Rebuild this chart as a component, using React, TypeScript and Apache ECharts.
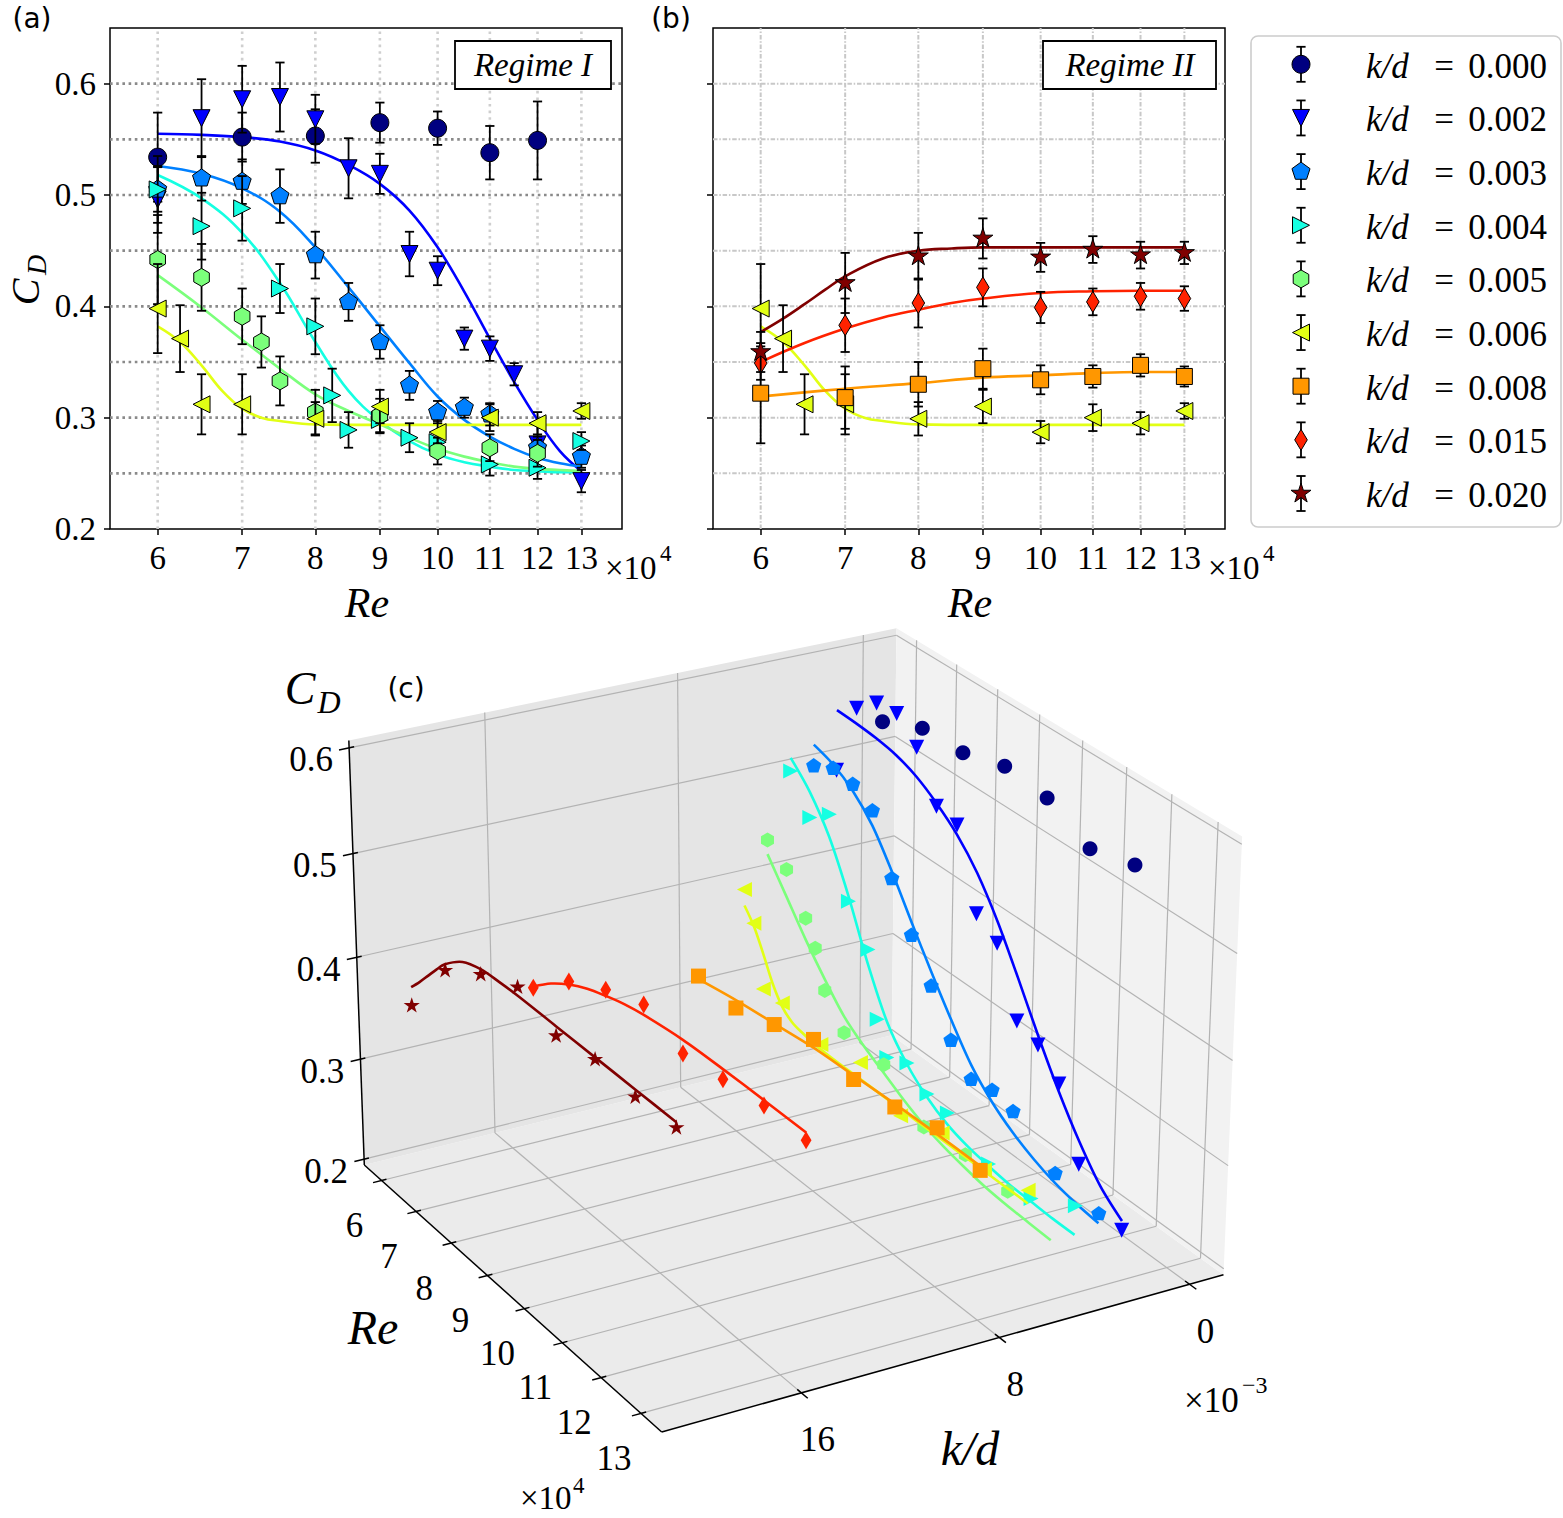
import React, { useEffect, useRef } from 'react';
import * as echarts from 'echarts';

const PAGE_W = 1563;
const PAGE_H = 1518;
const SERIF = 'Liberation Serif, DejaVu Serif, serif';
const SANS = 'DejaVu Sans, sans-serif';

// ---------------- ticks / limits ----------------
const RE_TICKS = [6, 7, 8, 9, 10, 11, 12, 13];
const CD_TICKS = [0.2, 0.3, 0.4, 0.5, 0.6];
const CD_GRID = [0.25, 0.3, 0.35, 0.4, 0.45, 0.5, 0.55, 0.6];
const KD_TICKS_3D = [0, 8, 16]; // x10^-3
const RE_LIMITS = [5.5, 14];
const CD_LIMITS = [0.2, 0.65];

// 3D box limits
const RE_3D = [5.49, 13.51];
const KD_3D = [-1.46, 21.46];
const CD_3D = [0.194, 0.607];

// ---------------- legend ----------------
const KD_LABELS = ['0.000', '0.002', '0.003', '0.004', '0.005', '0.006', '0.008', '0.015', '0.020'];
const KD_VALUES = [0, 2, 3, 4, 5, 6, 8, 15, 20]; // x10^-3
const COLORS = ['#000080', '#0000ff', '#0080ff', '#15ffe2', '#7bff7b', '#e2ff15', '#ff9700', '#ff2200', '#800000'];
const MARKERS = ['o', 'v', 'p', '>', 'h', '<', 's', 'd', '*'];

// ---------------- measurements (Re in 10^4) ----------------
const RE_000 = [6, 7, 8, 9, 10, 11, 12];
const CD_000 = [0.534, 0.552, 0.553, 0.565, 0.56, 0.538, 0.549];
const ERR_000 = [0.04, 0.022, 0.024, 0.018, 0.015, 0.024, 0.035];

const RE_002 = [6, 6.5, 7, 7.5, 8, 8.5, 9, 9.5, 10, 10.5, 11, 11.5, 12, 13];
const CD_002 = [0.496, 0.569, 0.586, 0.588, 0.568, 0.524, 0.519, 0.447, 0.432, 0.371, 0.362, 0.339, 0.276, 0.243];
const ERR_002 = [0.03, 0.035, 0.03, 0.031, 0.022, 0.027, 0.018, 0.02, 0.013, 0.01, 0.011, 0.01, 0.02, 0.01];

const RE_003 = [6, 6.5, 7, 7.5, 8, 8.5, 9, 9.5, 10, 10.5, 11, 12, 13];
const CD_003 = [0.505, 0.515, 0.512, 0.499, 0.446, 0.404, 0.368, 0.329, 0.305, 0.309, 0.303, 0.273, 0.265];
const ERR_003 = [0.02, 0.02, 0.02, 0.024, 0.021, 0.017, 0.015, 0.013, 0.01, 0.009, 0.01, 0.01, 0.01];

const RE_004 = [6, 6.5, 7, 7.5, 8, 8.25, 8.5, 9, 9.5, 10, 11, 12, 13];
const CD_004 = [0.505, 0.472, 0.488, 0.416, 0.382, 0.32, 0.289, 0.298, 0.282, 0.278, 0.258, 0.255, 0.279];
const ERR_004 = [0.03, 0.03, 0.029, 0.022, 0.025, 0.024, 0.016, 0.012, 0.013, 0.01, 0.01, 0.01, 0.008];

const RE_005 = [6, 6.5, 7, 7.25, 7.5, 8, 9, 10, 11, 12];
const CD_005 = [0.442, 0.426, 0.391, 0.368, 0.333, 0.305, 0.302, 0.27, 0.273, 0.268];
const ERR_005 = [0.04, 0.03, 0.025, 0.023, 0.022, 0.02, 0.015, 0.012, 0.012, 0.012];

const RE_006 = [6, 6.25, 6.5, 7, 8, 9, 10, 11, 12, 13];
const CD_006 = [0.398, 0.371, 0.312, 0.312, 0.299, 0.31, 0.287, 0.3, 0.295, 0.306];
const ERR_006 = [0.04, 0.03, 0.027, 0.027, 0.015, 0.015, 0.01, 0.012, 0.01, 0.007];

const RE_008 = [6, 7, 8, 9, 10, 11, 12, 13];
const CD_008 = [0.322, 0.318, 0.33, 0.344, 0.334, 0.337, 0.347, 0.337];
const ERR_008 = [0.045, 0.028, 0.02, 0.018, 0.013, 0.01, 0.01, 0.009];

const RE_015 = [6, 7, 8, 9, 10, 11, 12, 13];
const CD_015 = [0.349, 0.383, 0.403, 0.417, 0.399, 0.404, 0.409, 0.407];
const ERR_015 = [0.015, 0.024, 0.022, 0.017, 0.014, 0.012, 0.012, 0.011];

const RE_020 = [6, 7, 8, 9, 10, 11, 12, 13];
const CD_020 = [0.359, 0.421, 0.445, 0.461, 0.444, 0.451, 0.446, 0.448];
const ERR_020 = [0.018, 0.027, 0.021, 0.018, 0.013, 0.012, 0.012, 0.01];

// ---------------- fitted curves ----------------
const FIT_RE_A = [6, 6.5, 7, 7.5, 8, 8.5, 9, 9.5, 10, 10.5, 11, 11.5, 12, 12.5, 13];
const FIT_002 = [0.555, 0.554, 0.552, 0.548, 0.54, 0.527, 0.51, 0.486, 0.453, 0.413, 0.371, 0.332, 0.298, 0.27, 0.252];
const FIT_003 = [0.526, 0.519, 0.506, 0.485, 0.453, 0.417, 0.382, 0.349, 0.319, 0.298, 0.283, 0.272, 0.264, 0.259, 0.256];
const FIT_004 = [0.518, 0.497, 0.466, 0.421, 0.368, 0.324, 0.297, 0.279, 0.267, 0.26, 0.256, 0.253, 0.252, 0.251, 0.251];
const FIT_005 = [0.428, 0.399, 0.37, 0.344, 0.321, 0.306, 0.294, 0.282, 0.272, 0.265, 0.26, 0.256, 0.254, 0.253, 0.252];
const FIT_RE_Y = [6, 6.25, 6.5, 6.75, 7, 7.25, 7.5, 8, 9, 10, 11, 12, 13];
const FIT_006 = [0.382, 0.368, 0.347, 0.324, 0.308, 0.3, 0.297, 0.294, 0.2935, 0.2935, 0.2935, 0.2935, 0.2935];
const FIT_RE_B = [6, 7, 8, 9, 10, 11, 12, 13];
const FIT_008 = [0.319, 0.326, 0.331, 0.336, 0.338, 0.34, 0.341, 0.341];
const FIT_RE_R = [6, 6.5, 7, 7.5, 8, 8.5, 9, 10, 11, 12, 13];
const FIT_015 = [0.35, 0.367, 0.38, 0.39, 0.397, 0.403, 0.407, 0.412, 0.4135, 0.414, 0.414];
const FIT_RE_D = [6, 6.25, 6.5, 6.75, 7, 7.5, 8, 8.5, 9, 10, 11, 12, 13];
const FIT_020 = [0.377, 0.389, 0.402, 0.415, 0.427, 0.443, 0.45, 0.452, 0.453, 0.453, 0.453, 0.453, 0.453];

// 3D camera anchors: [Re, k/d(x1e-3), CD, pageX, pageY]
const ANCHORS_3D = [
  [5.49, 21.46, 0.194, 365, 1166],
  [13.51, 21.46, 0.194, 661, 1431],
  [13.51, -1.46, 0.194, 1222, 1277],
  [5.49, 21.46, 0.607, 347, 741],
  [5.49, -1.46, 0.607, 895, 628],
  [13.51, -1.46, 0.607, 1240, 835],
  [5.49, -1.46, 0.194, 892, 1030],
  [6, 21.46, 0.194, 381, 1182],
  [13, 21.46, 0.194, 639, 1412],
  [13.51, 0, 0.194, 1190, 1285],
  [13.51, 8, 0.194, 1000, 1337],
  [13.51, 16, 0.194, 803, 1392],
  [5.49, 21.46, 0.6, 349, 748],
  [5.49, 21.46, 0.4, 357, 957],
  [5.49, 21.46, 0.2, 364, 1160],
  [5.49, 16, 0.607, 487, 712],
  [5.49, 8, 0.607, 680, 672],
  [5.49, 0, 0.607, 863, 635],
  [6, -1.46, 0.194, 912, 1052],
  [6, -1.46, 0.607, 914, 641],
  [13, -1.46, 0.607, 1222, 824],
];

const SERIES = [
  { re: RE_000, cd: CD_000, err: ERR_000, fitRe: null, fitCd: null },
  { re: RE_002, cd: CD_002, err: ERR_002, fitRe: FIT_RE_A, fitCd: FIT_002 },
  { re: RE_003, cd: CD_003, err: ERR_003, fitRe: FIT_RE_A, fitCd: FIT_003 },
  { re: RE_004, cd: CD_004, err: ERR_004, fitRe: FIT_RE_A, fitCd: FIT_004 },
  { re: RE_005, cd: CD_005, err: ERR_005, fitRe: FIT_RE_A, fitCd: FIT_005 },
  { re: RE_006, cd: CD_006, err: ERR_006, fitRe: FIT_RE_Y, fitCd: FIT_006 },
  { re: RE_008, cd: CD_008, err: ERR_008, fitRe: FIT_RE_B, fitCd: FIT_008 },
  { re: RE_015, cd: CD_015, err: ERR_015, fitRe: FIT_RE_R, fitCd: FIT_015 },
  { re: RE_020, cd: CD_020, err: ERR_020, fitRe: FIT_RE_D, fitCd: FIT_020 },
].map((s: any, i) => ({ ...s, kd: KD_VALUES[i], color: COLORS[i], marker: MARKERS[i], label: KD_LABELS[i] }));

const PANEL_A = [0, 1, 2, 3, 4, 5];
const PANEL_B = [5, 6, 7, 8];

const SIZE_2D: any = { o: 18, v: 17, p: 19, '>': 17, h: 18, '<': 17, s: 16, d: 21, '*': 21 };
const SIZE_3D: any = { o: 15, v: 15, p: 16, '>': 15, h: 15, '<': 15, s: 15, d: 18, '*': 17 };

// ---------------- helpers ----------------
const lg = (v: number) => Math.log10(v);
const LOG_LO = lg(RE_LIMITS[0]);
const LOG_HI = lg(RE_LIMITS[1]);

function regular(n: number) {
  return Array.from({ length: n }, (_, k) => {
    const a = -Math.PI / 2 + (2 * Math.PI * k) / n;
    return [Math.cos(a), Math.sin(a)];
  });
}
function starPts() {
  return Array.from({ length: 10 }, (_, k) => {
    const a = -Math.PI / 2 + (Math.PI * k) / 5;
    const r = k % 2 ? 0.382 : 1;
    return [r * Math.cos(a), r * Math.sin(a)];
  });
}
const UNIT: any = {
  v: [[-1, -1], [1, -1], [0, 1]],
  '>': [[-1, -1], [1, 0], [-1, 1]],
  '<': [[1, -1], [-1, 0], [1, 1]],
  p: regular(5),
  h: regular(6),
  d: [[0, -1], [0.6, 0], [0, 1], [-0.6, 0]],
  '*': starPts(),
};

function markerEl(kind: string, cx: number, cy: number, size: number, fill: string, stroke: string | null, lw: number): any {
  const style: any = { fill, stroke: stroke || null, lineWidth: stroke ? lw : 0 };
  const h = size / 2;
  if (kind === 'o') return { type: 'circle', shape: { cx, cy, r: h }, style };
  if (kind === 's') return { type: 'rect', shape: { x: cx - h, y: cy - h, width: size, height: size }, style };
  return { type: 'polygon', shape: { points: UNIT[kind].map(([x, y]: number[]) => [cx + x * h, cy + y * h]) }, style };
}

function gaussSolve(M: number[][]) {
  const n = M.length;
  for (let c = 0; c < n; c++) {
    let piv = c;
    for (let r = c + 1; r < n; r++) if (Math.abs(M[r][c]) > Math.abs(M[piv][c])) piv = r;
    const t = M[c]; M[c] = M[piv]; M[piv] = t;
    for (let r = 0; r < n; r++) {
      if (r === c) continue;
      const f = M[r][c] / M[c][c];
      for (let k = c; k <= n; k++) M[r][k] -= f * M[c][k];
    }
  }
  return M.map((row, i) => row[n] / row[i]);
}

function norm3(re: number, kd: number, cd: number) {
  return [
    (re - RE_3D[0]) / (RE_3D[1] - RE_3D[0]),
    (kd - KD_3D[0]) / (KD_3D[1] - KD_3D[0]),
    (cd - CD_3D[0]) / (CD_3D[1] - CD_3D[0]),
  ];
}

function makeProjection() {
  const rows: number[][] = [];
  const rhs: number[] = [];
  for (const [re, kd, cd, u, v] of ANCHORS_3D) {
    const [X, Y, Z] = norm3(re, kd, cd);
    const uu = (u - 800) / 500;
    const vv = (v - 1000) / 500;
    rows.push([X, Y, Z, 1, 0, 0, 0, 0, -uu * X, -uu * Y, -uu * Z]);
    rhs.push(uu);
    rows.push([0, 0, 0, 0, X, Y, Z, 1, -vv * X, -vv * Y, -vv * Z]);
    rhs.push(vv);
  }
  const n = 11;
  const M = Array.from({ length: n }, () => new Array(n + 1).fill(0));
  rows.forEach((row, r) => {
    for (let i = 0; i < n; i++) {
      for (let j = 0; j < n; j++) M[i][j] += row[i] * row[j];
      M[i][n] += row[i] * rhs[r];
    }
  });
  const p = gaussSolve(M);
  return (re: number, kd: number, cd: number) => {
    const [X, Y, Z] = norm3(re, kd, cd);
    const w = p[8] * X + p[9] * Y + p[10] * Z + 1;
    return [((p[0] * X + p[1] * Y + p[2] * Z + p[3]) / w) * 500 + 800, ((p[4] * X + p[5] * Y + p[6] * Z + p[7]) / w) * 500 + 1000];
  };
}

function txt(text: string, x: number, y: number, size: number, o: any = {}): any {
  const align = o.align || 'center';
  const valign = o.valign || 'middle';
  const family = o.family || SERIF;
  const fstyle = o.italic ? 'italic' : 'normal';
  return {
    type: 'text', x, y, z: 20, silent: true, rotation: o.rotation || 0,
    style: {
      text, fontSize: size, fontFamily: family, fontStyle: fstyle,
      font: `${fstyle} normal ${size}px ${family}`,
      fill: '#000', align, verticalAlign: valign, textAlign: align, textVerticalAlign: valign,
    },
  };
}
const seg = (a: number[], b: number[], stroke: string, lineWidth: number, z = 0): any => ({
  type: 'line', silent: true, z, shape: { x1: a[0], y1: a[1], x2: b[0], y2: b[1] }, style: { stroke, lineWidth },
});

// ---------------- 2D series builders ----------------
function gridLineSeries(ax: number, values: number[], vertical: boolean, color: string, width: number, dash: number[]) {
  return {
    type: 'custom', xAxisIndex: ax, yAxisIndex: ax, z: 1, silent: true,
    data: values.map((v) => [v, v]),
    renderItem: (_p: any, api: any) => {
      const v = api.value(0);
      const a = vertical ? api.coord([v, CD_LIMITS[0]]) : api.coord([LOG_LO, v]);
      const b = vertical ? api.coord([v, CD_LIMITS[1]]) : api.coord([LOG_HI, v]);
      return { type: 'line', shape: { x1: a[0], y1: a[1], x2: b[0], y2: b[1] }, style: { stroke: color, lineWidth: width, lineDash: dash } };
    },
  };
}

function fitSeries(i: number, ax: number) {
  const s = SERIES[i];
  return {
    type: 'line', xAxisIndex: ax, yAxisIndex: ax, z: 2, silent: true, symbol: 'none', showSymbol: false,
    smooth: 0.4,
    lineStyle: { color: s.color, width: 2.6 },
    data: s.fitRe.map((r: number, j: number) => [lg(r), s.fitCd[j]]),
  };
}

function errSeries(i: number, ax: number) {
  const s = SERIES[i];
  return {
    type: 'custom', xAxisIndex: ax, yAxisIndex: ax, z: 3 + i, silent: true,
    data: s.re.map((r: number, j: number) => [lg(r), s.cd[j], s.err[j]]),
    renderItem: (_p: any, api: any) => {
      const x = api.value(0), y = api.value(1), e = api.value(2);
      const c = api.coord([x, y]);
      const lo = api.coord([x, y - e]);
      const hi = api.coord([x, y + e]);
      const st = { stroke: '#000', lineWidth: 1.8 };
      return {
        type: 'group',
        children: [
          { type: 'line', shape: { x1: c[0], y1: lo[1], x2: c[0], y2: hi[1] }, style: st },
          { type: 'line', shape: { x1: c[0] - 4.6, y1: lo[1], x2: c[0] + 4.6, y2: lo[1] }, style: st },
          { type: 'line', shape: { x1: c[0] - 4.6, y1: hi[1], x2: c[0] + 4.6, y2: hi[1] }, style: st },
          markerEl(s.marker, c[0], c[1], SIZE_2D[s.marker], s.color, '#000', 1),
        ],
      };
    },
  };
}

function xAxis2D(gi: number) {
  return {
    gridIndex: gi, type: 'value', min: LOG_LO, max: LOG_HI,
    axisLine: { show: false }, splitLine: { show: false },
    axisTick: { show: true, customValues: RE_TICKS.map(lg), length: 6, lineStyle: { color: '#000', width: 1.5 } },
    axisLabel: {
      show: true, customValues: RE_TICKS.map(lg), formatter: (v: number) => String(Math.round(Math.pow(10, v))),
      fontSize: 33, fontFamily: SERIF, color: '#000', margin: 12,
    },
  };
}
function yAxis2D(gi: number, labels: boolean) {
  return {
    gridIndex: gi, type: 'value', min: CD_LIMITS[0], max: CD_LIMITS[1],
    axisLine: { show: false }, splitLine: { show: false },
    axisTick: { show: true, customValues: CD_TICKS, length: 6, lineStyle: { color: '#000', width: 1.5 } },
    axisLabel: {
      show: labels, customValues: CD_TICKS, formatter: (v: number) => v.toFixed(1),
      fontSize: 33, fontFamily: SERIF, color: '#000', margin: 14,
    },
  };
}

// ---------------- option ----------------
function buildOption() {
  const P = makeProjection();
  const [R0, R1] = RE_3D;
  const [K0, K1] = KD_3D;
  const [Z0, Z1] = CD_3D;

  const series: any[] = [];
  // panel (a)
  series.push(gridLineSeries(0, CD_GRID, false, '#8a8a8a', 2.6, [2.6, 3.6]));
  series.push(gridLineSeries(0, RE_TICKS.map(lg), true, '#cfcfcf', 2.6, [2.6, 4]));
  PANEL_A.forEach((i) => { if (SERIES[i].fitRe) series.push(fitSeries(i, 0)); });
  PANEL_A.forEach((i) => series.push(errSeries(i, 0)));
  // panel (b)
  series.push(gridLineSeries(1, CD_GRID, false, '#c8c8c8', 2, [4.5, 1.8, 1.5, 1.8]));
  series.push(gridLineSeries(1, RE_TICKS.map(lg), true, '#c8c8c8', 2, [4.5, 1.8, 1.5, 1.8]));
  PANEL_B.forEach((i) => series.push(fitSeries(i, 1)));
  PANEL_B.forEach((i) => series.push(errSeries(i, 1)));

  // panel (c): 3D, through a pixel-space cartesian grid
  SERIES.forEach((s: any, i: number) => {
    if (s.fitRe) {
      series.push({
        type: 'custom', xAxisIndex: 2, yAxisIndex: 2, z: 20 + 2 * i, silent: true, data: [[0, 0]],
        renderItem: (_p: any, api: any) => ({
          type: 'polyline',
          shape: { points: s.fitRe.map((r: number, j: number) => api.coord(P(r, s.kd, s.fitCd[j]))), smooth: 0.3 },
          style: { stroke: s.color, lineWidth: 2.6, fill: null },
        }),
      });
    }
    series.push({
      type: 'custom', xAxisIndex: 2, yAxisIndex: 2, z: 21 + 2 * i, silent: true,
      data: s.re.map((r: number, j: number) => [r, s.cd[j]]),
      renderItem: (_p: any, api: any) => {
        const c = api.coord(P(api.value(0), s.kd, api.value(1)));
        return markerEl(s.marker, c[0], c[1], SIZE_3D[s.marker], s.color, null, 0);
      },
    });
  });

  // ---------- graphic ----------
  const g: any[] = [];
  // 3D panes
  const poly = (pts: number[][], fill: string) => ({ type: 'polygon', silent: true, z: 0, shape: { points: pts }, style: { fill, stroke: null } });
  g.push(poly([P(R0, K0, Z0), P(R1, K0, Z0), P(R1, K1, Z0), P(R0, K1, Z0)], '#ebebeb'));
  g.push(poly([P(R0, K0, Z0), P(R0, K1, Z0), P(R0, K1, Z1), P(R0, K0, Z1)], '#e5e5e5'));
  g.push(poly([P(R0, K0, Z0), P(R1, K0, Z0), P(R1, K0, Z1), P(R0, K0, Z1)], '#f2f2f2'));
  const GC = '#b3b3b3';
  RE_TICKS.forEach((r) => {
    g.push(seg(P(r, K0, Z0), P(r, K1, Z0), GC, 1.2, 1));
    g.push(seg(P(r, K0, Z0), P(r, K0, Z1), GC, 1.2, 1));
  });
  KD_TICKS_3D.forEach((k) => {
    g.push(seg(P(R0, k, Z0), P(R1, k, Z0), GC, 1.2, 1));
    g.push(seg(P(R0, k, Z0), P(R0, k, Z1), GC, 1.2, 1));
  });
  CD_TICKS.forEach((c) => {
    g.push(seg(P(R0, K0, c), P(R0, K1, c), GC, 1.2, 1));
    g.push(seg(P(R0, K0, c), P(R1, K0, c), GC, 1.2, 1));
  });
  // 3D axis lines & ticks
  g.push(seg(P(R0, K1, Z0), P(R1, K1, Z0), '#000', 1.5, 2));
  g.push(seg(P(R1, K1, Z0), P(R1, K0, Z0), '#000', 1.5, 2));
  g.push(seg(P(R0, K1, Z0), P(R0, K1, Z1), '#000', 1.5, 2));
  RE_TICKS.forEach((r) => {
    g.push(seg(P(r, K1 + 0.35, Z0), P(r, K1 - 0.2, Z0), '#000', 1.5, 2));
    const p = P(r, K1, Z0);
    g.push(txt(String(r), p[0] - 27, p[1] + 45, 35));
  });
  KD_TICKS_3D.forEach((k) => {
    g.push(seg(P(R1 + 0.15, k, Z0), P(R1 - 0.1, k, Z0), '#000', 1.5, 2));
    const p = P(R1, k, Z0);
    g.push(txt(String(k), p[0] + 16, p[1] + 47, 35));
  });
  CD_TICKS.forEach((c) => {
    g.push(seg(P(R0, K1 + 0.4, c), P(R0, K1 - 0.2, c), '#000', 1.5, 2));
    const p = P(R0, K1, c);
    g.push(txt(c.toFixed(1), p[0] - 38, p[1] + 12, 35));
  });
  // 3D titles
  g.push(txt('C', 300, 688, 46, { italic: true }));
  g.push(txt('D', 329, 702, 32, { italic: true }));
  g.push(txt('(c)', 406, 688, 28, { family: SANS }));
  g.push(txt('Re', 373, 1327, 48, { italic: true }));
  g.push(txt('k/d', 970, 1448, 48, { italic: true }));
  g.push(txt('\u00d710', 520, 1498, 33, { align: 'left' }));
  g.push(txt('4', 573, 1485, 23, { align: 'left' }));
  g.push(txt('\u00d710', 1184, 1400, 35, { align: 'left' }));
  g.push(txt('\u22123', 1242, 1385, 24, { align: 'left' }));

  // 2D titles
  g.push(txt('(a)', 32, 18, 28, { family: SANS }));
  g.push(txt('(b)', 671, 18, 28, { family: SANS }));
  g.push(txt('C', 25, 292, 40, { italic: true, rotation: Math.PI / 2 }));
  g.push(txt('D', 36, 265, 28, { italic: true, rotation: Math.PI / 2 }));
  [0, 603].forEach((dx) => {
    g.push(txt('Re', 367 + dx, 603, 42, { italic: true }));
    g.push(txt('\u00d710', 605 + dx, 568, 33, { align: 'left' }));
    g.push(txt('4', 660 + dx, 553, 23, { align: 'left' }));
  });
  // regime boxes
  g.push({ type: 'rect', z: 15, silent: true, shape: { x: 455, y: 41, width: 156, height: 48 }, style: { fill: '#fff', stroke: '#000', lineWidth: 1.8 } });
  g.push(txt('Regime I', 533, 65, 33, { italic: true }));
  g.push({ type: 'rect', z: 15, silent: true, shape: { x: 1043, y: 41, width: 173, height: 48 }, style: { fill: '#fff', stroke: '#000', lineWidth: 1.8 } });
  g.push(txt('Regime II', 1130, 65, 33, { italic: true }));

  // legend
  g.push({ type: 'rect', z: 15, silent: true, shape: { x: 1251, y: 36, width: 310, height: 491, r: 7 }, style: { fill: '#fff', stroke: '#cccccc', lineWidth: 1.6 } });
  SERIES.forEach((s: any, i: number) => {
    const cx = 1301;
    const cy = 64.3 + i * 53.65;
    g.push({ ...seg([cx, cy - 17.5], [cx, cy + 17.5], '#000', 1.8), z: 16 });
    g.push({ ...seg([cx - 4.6, cy - 17.5], [cx + 4.6, cy - 17.5], '#000', 1.8), z: 16 });
    g.push({ ...seg([cx - 4.6, cy + 17.5], [cx + 4.6, cy + 17.5], '#000', 1.8), z: 16 });
    g.push({ ...markerEl(s.marker, cx, cy, SIZE_2D[s.marker], s.color, '#000', 1), z: 17, silent: true });
    g.push(txt('k/d', 1366, cy + 2, 35, { italic: true, align: 'left' }));
    g.push(txt('=', 1444, cy + 2, 35));
    g.push(txt(s.label, 1547, cy + 2, 35, { align: 'right' }));
  });

  return {
    animation: false,
    backgroundColor: '#ffffff',
    textStyle: { fontFamily: SERIF },
    grid: [
      { left: 110, top: 28, width: 512, height: 501, show: true, borderColor: '#000', borderWidth: 1.5, backgroundColor: 'rgba(0,0,0,0)' },
      { left: 713, top: 28, width: 512, height: 501, show: true, borderColor: '#000', borderWidth: 1.5, backgroundColor: 'rgba(0,0,0,0)' },
      { left: 0, top: 0, width: PAGE_W, height: PAGE_H, show: false },
    ],
    xAxis: [
      xAxis2D(0),
      xAxis2D(1),
      { gridIndex: 2, type: 'value', min: 0, max: PAGE_W, show: false },
    ],
    yAxis: [
      yAxis2D(0, true),
      yAxis2D(1, false),
      { gridIndex: 2, type: 'value', min: 0, max: PAGE_H, inverse: true, show: false },
    ],
    series,
    graphic: { elements: g },
  };
}

export default function App() {
  const ref = useRef<HTMLDivElement>(null);
  useEffect(() => {
    if (!ref.current) return;
    const chart = echarts.init(ref.current, undefined, { renderer: 'svg' });
    chart.setOption(buildOption() as any);
    return () => chart.dispose();
  }, []);
  return (
    <div
      ref={ref}
      style={{ position: 'absolute', left: 0, top: 0, width: PAGE_W, height: PAGE_H, background: '#fff', fontFamily: SERIF }}
    />
  );
}
